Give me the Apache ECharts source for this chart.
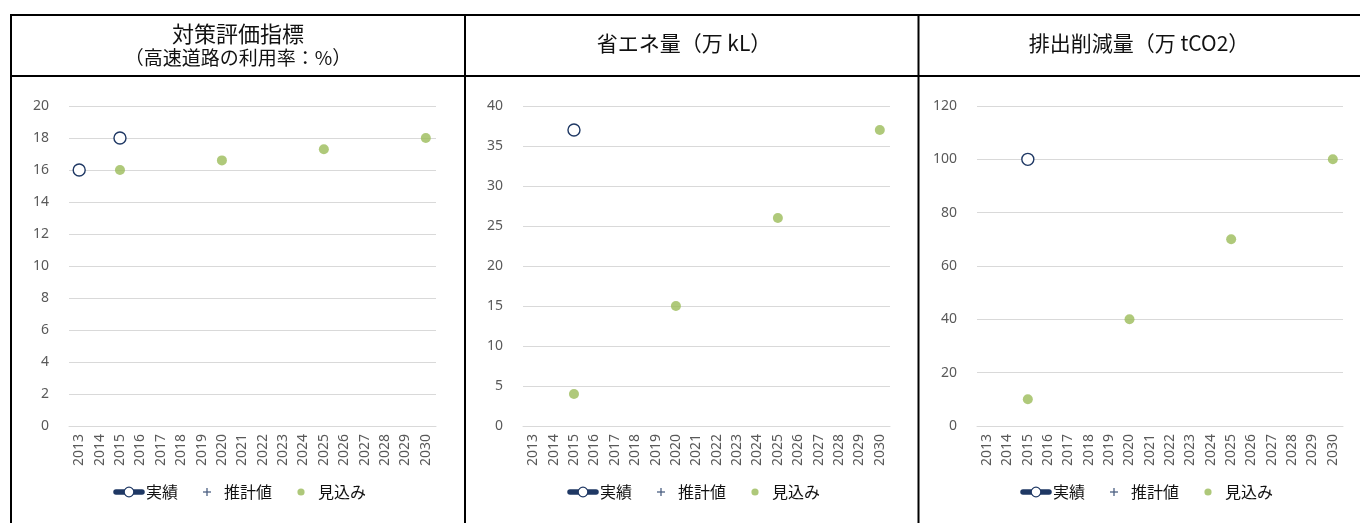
<!DOCTYPE html>
<html>
<head>
<meta charset="utf-8">
<script src="https://cdn.jsdelivr.net/npm/echarts@6/dist/echarts.min.js"></script>
<style>
html,body{margin:0;padding:0;background:#fff;}
#c{width:1360px;height:523px;}
</style>
</head>
<body>
<div id="c"></div>
<script>
// ---- data ----
const years = ['2013','2014','2015','2016','2017','2018','2019','2020','2021','2022','2023','2024','2025','2026','2027','2028','2029','2030'];
const seriesNames = ['実績', '推計値', '見込み'];
const panelTitles = ['対策評価指標\n{s|（高速道路の利用率：%）}', '省エネ量（万 kL）', '排出削減量（万 tCO2）'];
// panel 1: 高速道路の利用率 (%)
const p1Actual   = [16, null, 18, null, null, null, null, null, null, null, null, null, null, null, null, null, null, null];
const p1Estimate = [null, null, null, null, null, null, null, null, null, null, null, null, null, null, null, null, null, null];
const p1Outlook  = [null, null, 16, null, null, null, null, 16.6, null, null, null, null, 17.3, null, null, null, null, 18];
// panel 2: 省エネ量 (万kL)
const p2Actual   = [null, null, 37, null, null, null, null, null, null, null, null, null, null, null, null, null, null, null];
const p2Estimate = [null, null, null, null, null, null, null, null, null, null, null, null, null, null, null, null, null, null];
const p2Outlook  = [null, null, 4, null, null, null, null, 15, null, null, null, null, 26, null, null, null, null, 37];
// panel 3: 排出削減量 (万tCO2)
const p3Actual   = [null, null, 100, null, null, null, null, null, null, null, null, null, null, null, null, null, null, null];
const p3Estimate = [null, null, null, null, null, null, null, null, null, null, null, null, null, null, null, null, null, null];
const p3Outlook  = [null, null, 10, null, null, null, null, 40, null, null, null, null, 70, null, null, null, null, 100];
// y-axis scales
const yMax = [20, 40, 120];
const yInterval = [2, 5, 20];

// ---- styling ----
const NAVY = '#1F3864';
const GREEN = '#9BBB59';
const GREY = '#595959';
const GRID = '#D9D9D9';
const NUMFONT = '"Noto Sans", "Noto Sans CJK JP", sans-serif';
const JPFONT = '"Noto Sans CJK JP", sans-serif';

function svgIcon(svg){ return 'image://data:image/svg+xml;utf8,' + encodeURIComponent(svg); }
const iconActual = svgIcon('<svg xmlns="http://www.w3.org/2000/svg" width="32" height="12" viewBox="0 0 32 12"><line x1="3" y1="6" x2="29" y2="6" stroke="'+NAVY+'" stroke-width="5.5" stroke-linecap="round"/><circle cx="16" cy="6" r="4.8" fill="#fff" stroke="'+NAVY+'" stroke-width="1.2"/></svg>');
const iconEst = svgIcon('<svg xmlns="http://www.w3.org/2000/svg" width="32" height="12" viewBox="0 0 32 12"><line x1="12" y1="6" x2="20" y2="6" stroke="'+NAVY+'" stroke-width="1.3"/><line x1="16" y1="2" x2="16" y2="10" stroke="'+NAVY+'" stroke-width="1.3"/></svg>');
const iconOut = svgIcon('<svg xmlns="http://www.w3.org/2000/svg" width="32" height="12" viewBox="0 0 32 12"><circle cx="16" cy="6" r="3.6" fill="'+GREEN+'"/></svg>');
const plusPath = 'path://M4.4,0h1.2v4.4h4.4v1.2h-4.4v4.4h-1.2v-4.4h-4.4v-1.2h4.4z';

const gridLefts = [69, 523, 977];
const gridWidths = [367, 367, 366];
const titleX = [238, 684, 1139];
const legendLeft = [113, 567, 1020];
const actual = [p1Actual, p2Actual, p3Actual];
const est = [p1Estimate, p2Estimate, p3Estimate];
const outl = [p1Outlook, p2Outlook, p3Outlook];

const grids = [], xAxes = [], yAxes = [], series = [], titles = [], legends = [];
for (let i = 0; i < 3; i++) {
  grids.push({left: gridLefts[i], top: 106, width: gridWidths[i], height: 320, containLabel: false});
  xAxes.push({
    type: 'category', gridIndex: i, data: years, boundaryGap: true,
    axisLine: {show: true, lineStyle: {color: GRID, width: 1}},
    axisTick: {show: false},
    axisLabel: {rotate: 90, interval: 0, color: GREY, fontSize: 14, fontFamily: NUMFONT, margin: 8}
  });
  yAxes.push({
    type: 'value', gridIndex: i, min: 0, max: yMax[i], interval: yInterval[i],
    axisLine: {show: false}, axisTick: {show: false},
    axisLabel: {color: GREY, fontSize: 14, fontFamily: NUMFONT, margin: 20},
    splitLine: {lineStyle: {color: GRID, width: 1}}
  });
  series.push({
    name: seriesNames[0], type: 'line', xAxisIndex: i, yAxisIndex: i, data: actual[i],
    symbol: 'circle', symbolSize: 12, connectNulls: false,
    lineStyle: {color: NAVY, width: 4.5},
    itemStyle: {color: '#fff', borderColor: NAVY, borderWidth: 1.4},
    emphasis: {disabled: true}, z: 3
  });
  series.push({
    name: seriesNames[1], type: 'scatter', xAxisIndex: i, yAxisIndex: i, data: est[i],
    symbol: plusPath, symbolSize: 9, itemStyle: {color: NAVY}, emphasis: {disabled: true}
  });
  series.push({
    name: seriesNames[2], type: 'scatter', xAxisIndex: i, yAxisIndex: i, data: outl[i],
    symbol: 'circle', symbolSize: 10, itemStyle: {color: GREEN}, emphasis: {disabled: true}, z: 2
  });
  titles.push({
    text: panelTitles[i], left: titleX[i], textAlign: 'center', padding: 0,
    top: i === 0 ? 21 : 30,
    textStyle: {
      fontFamily: JPFONT, fontWeight: 'normal', color: '#111',
      fontSize: i === 0 ? 22 : 21, lineHeight: i === 0 ? 25 : 26,
      rich: {s: {fontFamily: JPFONT, fontSize: 19, color: '#111', lineHeight: 24}}
    }
  });
  legends.push({
    left: legendLeft[i], top: 484, orient: 'horizontal', padding: 0,
    itemWidth: 32, itemHeight: 12, itemGap: 13, selectedMode: false,
    textStyle: {fontFamily: JPFONT, fontSize: 16, color: '#111', padding: [0,0,0,-4]},
    data: [
      {name: seriesNames[0], icon: iconActual},
      {name: seriesNames[1], icon: iconEst},
      {name: seriesNames[2], icon: iconOut}
    ]
  });
}

const bw = 2, bc = '#000';
const graphic = [
  {type: 'line', shape: {x1: 11, y1: 14, x2: 11, y2: 523}, style: {stroke: bc, lineWidth: bw}, silent: true},
  {type: 'line', shape: {x1: 10, y1: 15, x2: 1360, y2: 15}, style: {stroke: bc, lineWidth: bw}, silent: true},
  {type: 'line', shape: {x1: 10, y1: 76, x2: 1360, y2: 76}, style: {stroke: bc, lineWidth: bw}, silent: true},
  {type: 'line', shape: {x1: 465, y1: 14, x2: 465, y2: 523}, style: {stroke: bc, lineWidth: bw}, silent: true},
  {type: 'line', shape: {x1: 918.5, y1: 14, x2: 918.5, y2: 523}, style: {stroke: bc, lineWidth: bw}, silent: true}
];

const chart = echarts.init(document.getElementById('c'), null, {renderer: 'canvas'});
chart.setOption({
  animation: false,
  backgroundColor: '#fff',
  title: titles,
  legend: legends,
  grid: grids,
  xAxis: xAxes,
  yAxis: yAxes,
  series: series,
  graphic: graphic
});
</script>
</body>
</html>
